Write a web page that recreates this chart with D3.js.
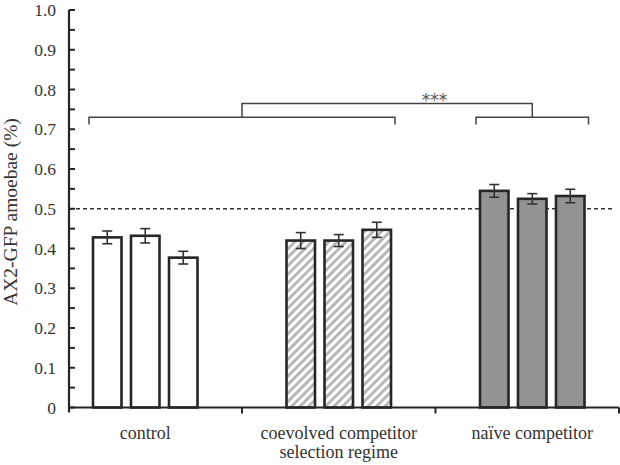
<!DOCTYPE html>
<html><head><meta charset="utf-8">
<script src="https://cdn.jsdelivr.net/npm/d3@7"></script>
<style>body{margin:0;background:#fff}svg{display:block}</style>
</head><body>
<svg id="c" width="620" height="465"></svg>
<script>
const categories = ["control", "coevolved competitor|selection regime", "naïve competitor"];
const replicates = [0, 1, 2];
const controlValues = [0.428, 0.432, 0.377];
const coevolvedValues = [0.420, 0.420, 0.447];
const naiveValues = [0.545, 0.525, 0.532];
const controlErrors = [0.016, 0.018, 0.016];
const coevolvedErrors = [0.020, 0.015, 0.019];
const naiveErrors = [0.016, 0.013, 0.017];
const yTicks = [0, 0.1, 0.2, 0.3, 0.4, 0.5, 0.6, 0.7, 0.8, 0.9, 1.0];
const yMinorTicks = [0.05, 0.15, 0.25, 0.35, 0.45, 0.55, 0.65, 0.75, 0.85, 0.95];
const referenceLevel = 0.5;
const bracketLevels = [0.730, 0.765];
const bracketLeg = 0.018;
const sigLabel = "***";
const yTitle = "AX2-GFP amoebae (%)";

const values = [controlValues, coevolvedValues, naiveValues];
const errors = [controlErrors, coevolvedErrors, naiveErrors];
const fills = ["#ffffff", "url(#hatch)", "#939393"];

const svg = d3.select("#c");
const font = "'Liberation Serif', 'Times New Roman', serif";
const ink = "#262626";

const defs = svg.append("defs");
const pat = defs.append("pattern").attr("id", "hatch").attr("patternUnits", "userSpaceOnUse")
  .attr("width", 6).attr("height", 6).attr("patternTransform", "rotate(45)");
pat.append("rect").attr("width", 6).attr("height", 6).attr("fill", "#fff");
pat.append("rect").attr("width", 3).attr("height", 6).attr("fill", "#b8b8b8");

const y = d3.scaleLinear().domain([0, 1]).range([407.5, 10]);
const x = d3.scaleBand().domain(d3.range(categories.length)).range([48.5, 629]).padding(0);
const xi = d3.scaleBand().domain(replicates).range([-57, 57]).paddingInner(0.25).paddingOuter(0.125);
const axisLeft = 69, axisRight = 619;

// reference dashed line
svg.append("line").attr("x1", axisLeft).attr("x2", 613)
  .attr("y1", y(referenceLevel)).attr("y2", y(referenceLevel))
  .attr("stroke", "#333").attr("stroke-width", 1.3).attr("stroke-dasharray", "4,3");

// bars
categories.forEach((c, gi) => {
  const cx = x(gi) + x.bandwidth() / 2;
  const g = svg.append("g");
  replicates.forEach(r => {
    const v = values[gi][r], e = errors[gi][r];
    const bx = cx + xi(r);
    g.append("rect").attr("x", bx).attr("y", y(v)).attr("width", xi.bandwidth())
      .attr("height", y(0) - y(v)).attr("fill", fills[gi])
      .attr("stroke", ink).attr("stroke-width", 2.6);
    const mx = bx + xi.bandwidth() / 2;
    g.append("line").attr("x1", mx).attr("x2", mx).attr("y1", y(v - e)).attr("y2", y(v + e))
      .attr("stroke", "#333").attr("stroke-width", 1.6);
    [v - e, v + e].forEach(t => g.append("line").attr("x1", mx - 5).attr("x2", mx + 5)
      .attr("y1", y(t)).attr("y2", y(t)).attr("stroke", "#333").attr("stroke-width", 1.6));
  });
});

// axes
const yAxis = svg.append("g").attr("transform", `translate(${axisLeft},0)`);
yAxis.append("line").attr("x1", 0).attr("x2", 0).attr("y1", y(1)).attr("y2", y(0) + 5)
  .attr("stroke", ink).attr("stroke-width", 2.2);
yTicks.concat(yMinorTicks).forEach(t => yAxis.append("line").attr("x1", 0).attr("x2", 6)
  .attr("y1", y(t)).attr("y2", y(t)).attr("stroke", ink).attr("stroke-width", 2));
yAxis.selectAll("text.tl").data(yTicks).join("text").attr("class", "tl")
  .attr("x", -13).attr("y", d => y(d)).attr("dy", "0.35em").attr("text-anchor", "end")
  .attr("font-family", font).attr("font-size", 17.5).attr("fill", "#333")
  .text(d => d === 0 ? "0" : d3.format(".1f")(d));

svg.append("line").attr("x1", axisLeft).attr("x2", axisRight).attr("y1", y(0)).attr("y2", y(0))
  .attr("stroke", ink).attr("stroke-width", 2.2);
[1, 2, 3].forEach(i => {
  const tx = i < 3 ? x(i) : axisRight;
  svg.append("line").attr("x1", tx).attr("x2", tx).attr("y1", y(0)).attr("y2", y(0) + 6)
    .attr("stroke", ink).attr("stroke-width", 2);
});

categories.forEach((c, gi) => {
  const cx = x(gi) + x.bandwidth() / 2;
  c.split("|").forEach((line, li) => {
    svg.append("text").attr("x", cx).attr("y", 439 + li * 19).attr("text-anchor", "middle")
      .attr("font-family", font).attr("font-size", 18).attr("fill", "#333").text(line);
  });
});

svg.append("text").attr("transform", `translate(17,${212}) rotate(-90)`).attr("text-anchor", "middle")
  .attr("font-family", font).attr("font-size", 19.5).attr("fill", "#333").text(yTitle);

// significance brackets
function groupSpan(a, b) {
  const l = x(a) + x.bandwidth() / 2 + xi(0) - 4;
  const r = x(b) + x.bandwidth() / 2 + xi(2) + xi.bandwidth() + 4;
  return [l, r];
}
const spans = [groupSpan(0, 1), groupSpan(2, 2)];
const br = svg.append("g").attr("fill", "none").attr("stroke", "#444").attr("stroke-width", 1.5);
spans.forEach(([l, r]) => {
  br.append("path").attr("d", `M${l},${y(bracketLevels[0] - bracketLeg)}V${y(bracketLevels[0])}H${r}V${y(bracketLevels[0] - bracketLeg)}`);
});
const m0 = (spans[0][0] + spans[0][1]) / 2, m1 = (spans[1][0] + spans[1][1]) / 2;
br.append("path").attr("d", `M${m0},${y(bracketLevels[0])}V${y(bracketLevels[1])}H${m1}V${y(bracketLevels[0])}`);
svg.append("text").attr("x", x(2) - 1).attr("y", y(bracketLevels[1]) + 3).attr("text-anchor", "middle")
  .attr("font-family", "'DejaVu Sans', sans-serif").attr("font-size", 17).attr("fill", "#555").text(sigLabel);
</script>
</body></html>
